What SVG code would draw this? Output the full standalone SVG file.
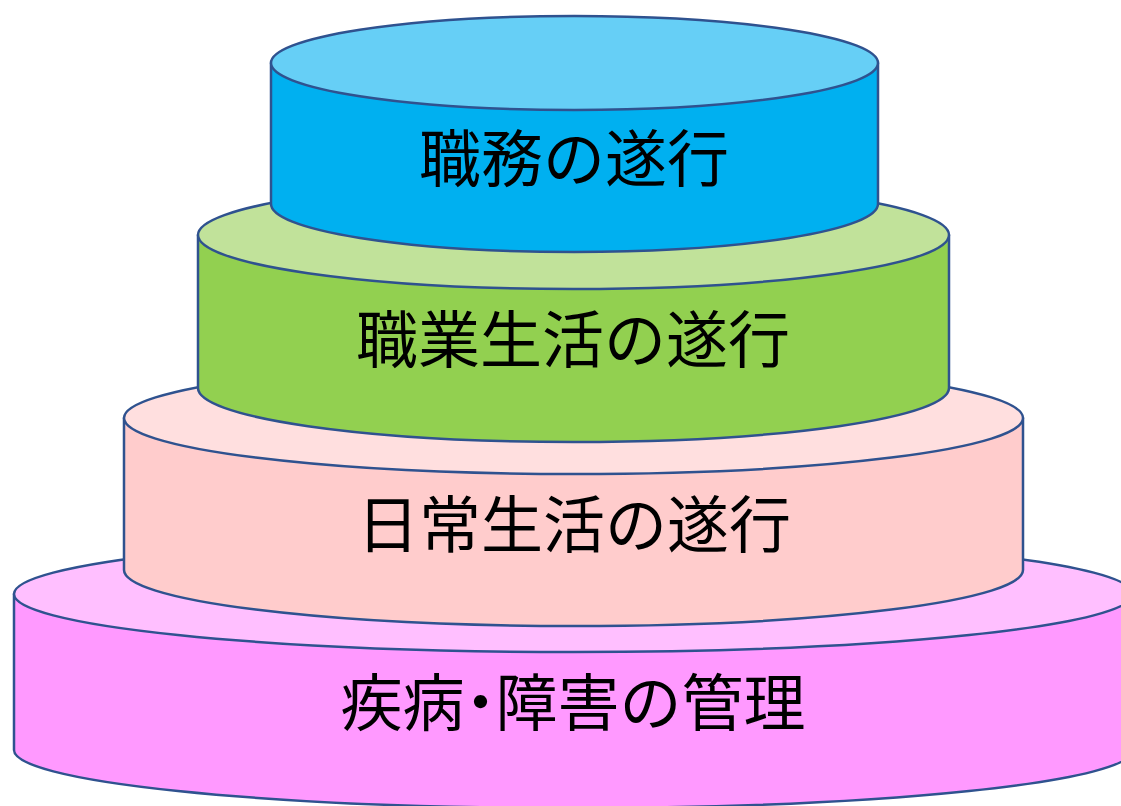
<svg xmlns="http://www.w3.org/2000/svg" width="1121" height="806" viewBox="0 0 1121 806">
<style>
.s{stroke:#2F528F;stroke-width:2.5;stroke-linejoin:round}
.t{font-family:"Noto Sans CJK JP","Noto Sans CJK SC",sans-serif;font-size:62px;fill:#000;text-anchor:middle}
</style>
<rect width="1121" height="806" fill="#FFFFFF"/>
<g id="tier4">
<path class="s" fill="#FF99FF" d="M14,594 L14,750 A559.5,58 0 0 0 1133,750 L1133,594 Z"/>
<ellipse class="s" fill="#FFBFFF" cx="573.5" cy="594" rx="559.5" ry="58"/>
<text class="t" x="573" y="726">疾病<tspan dx="-15">・</tspan><tspan dx="-16">障害の管理</tspan></text>
</g>
<g id="tier3">
<path class="s" fill="#FFCCCC" d="M124,418 L124,570 A449.5,56 0 0 0 1023,570 L1023,418 Z"/>
<ellipse class="s" fill="#FFDFDF" cx="573.5" cy="418" rx="449.5" ry="56"/>
<text class="t" x="574" y="548">日常生活の遂行</text>
</g>
<g id="tier2">
<path class="s" fill="#92D050" d="M198,235 L198,388 A375.5,54 0 0 0 949,388 L949,235 Z"/>
<ellipse class="s" fill="#C1E29A" cx="573.5" cy="235" rx="375.5" ry="54"/>
<text class="t" x="573" y="363">職業生活の遂行</text>
</g>
<g id="tier1">
<path class="s" fill="#00B0F0" d="M271,63 L271,204 A303.5,48 0 0 0 878,204 L878,63 Z"/>
<ellipse class="s" fill="#66CFF6" cx="574.5" cy="63" rx="303.5" ry="47"/>
<text class="t" x="574" y="182">職務の遂行</text>
</g>
<g id="connectors"/>
</svg>
